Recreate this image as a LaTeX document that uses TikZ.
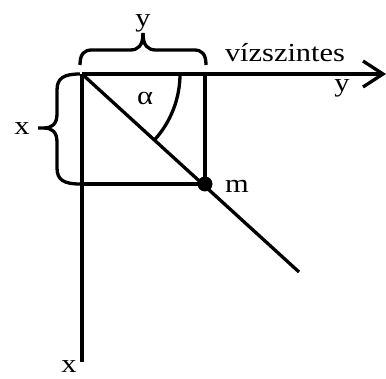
\documentclass[tikz,border=0pt]{standalone}
\usepackage{graphicx}
\usepackage{fontspec}
\setmainfont{Liberation Serif}
\newcommand{\Wd}[1]{\scalebox{1.17}[1]{#1}}
\begin{document}
\begin{tikzpicture}[x=1pt,y=-1pt,line width=3.3pt,
  lbl/.style={font=\fontsize{26}{30}\selectfont, inner sep=0pt, anchor=base},
  ln/.style={line width=3.3pt}]
\useasboundingbox (0,0) rectangle (386,379);
\coordinate (O) at (82,74);
\coordinate (H) at (383,74);
\coordinate (V) at (82,362);
\coordinate (R) at (205,74);
\coordinate (B) at (82,184);
\coordinate (D) at (299,272);
\node[circle, fill=black, inner sep=0pt, minimum size=15pt] (m) at (205,184) {};
% axes
\draw[ln] (O) -- (H);
\draw[ln, line join=miter] (363,61) -- (H) -- (363,87);
\draw[ln] (O) -- (V);
% square
\draw[ln] (R) -- (m.center);
\draw[ln] (B) -- (m.center);
% diagonal
\draw[ln] (O) -- (D);
% angle arc
\draw[ln] (O) ++(98,0) arc[start angle=0, end angle=42.4, radius=98];
% top brace
\draw[ln] (80,65) .. controls (80,54) and (84,50) .. (92,50) -- (130,50)
  .. controls (138,50) and (143,46) .. (143,33);
\draw[ln] (206,65) .. controls (206,54) and (202,50) .. (194,50) -- (156,50)
  .. controls (148,50) and (143,46) .. (143,33);
% left brace
\draw[ln] (80,74) .. controls (64,74) and (57,78) .. (57,90) -- (57,114)
  .. controls (57,124) and (52,128) .. (44,128) -- (38,128);
\draw[ln] (80,184) .. controls (64,184) and (57,180) .. (57,168) -- (57,142)
  .. controls (57,132) and (52,128) .. (44,128);
% labels
\node[lbl] (ly) at (143,27) {\Wd{y}};
\node[lbl] (lx) at (22,135) {\Wd{x}};
\node[lbl] (la) at (145,105) {\Wd{α}};
\node[lbl] (lv) at (285,62) {\Wd{vízszintes}};
\node[lbl] (ly2) at (342,92) {\Wd{y}};
\node[lbl] (lm) at (237,193) {\Wd{m}};
\node[lbl] (lx2) at (69,373) {\Wd{x}};
\end{tikzpicture}
\end{document}
